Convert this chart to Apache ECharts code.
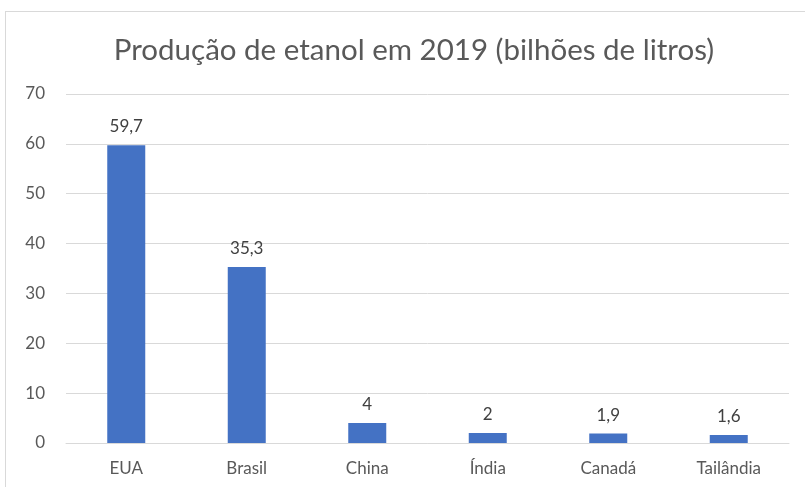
<!DOCTYPE html>
<html>
<head>
<meta charset="utf-8">
<script src="https://cdn.jsdelivr.net/npm/echarts@6/dist/echarts.min.js"></script>
<style>
  html, body { margin: 0; padding: 0; background: #fff; }
  #frame { position: absolute; left: 5px; top: 11px; width: 820px; height: 500px; border: 1px solid #d9d9d9; box-sizing: border-box; }
  #chart { position: absolute; left: 0; top: 0; width: 805px; height: 487px; }
</style>
</head>
<body>
<div id="frame"></div>
<div id="chart"></div>
<script>
// Ethanol production by country, 2019 (billions of litres)
const categories = ['EUA', 'Brasil', 'China', 'Índia', 'Canadá', 'Tailândia'];
const production = [59.7, 35.3, 4, 2, 1.9, 1.6];
const yTicks = [0, 10, 20, 30, 40, 50, 60, 70];

const textColor = '#595959';
const fontFamily = 'Lato, "Open Sans", sans-serif';

const chart = echarts.init(document.getElementById('chart'), null, { renderer: 'canvas' });
chart.setOption({
  animation: false,
  backgroundColor: 'transparent',
  title: {
    text: 'Produção de etanol em 2019 (bilhões de litros)',
    left: 409, top: 30, textAlign: 'center',
    textStyle: { color: textColor, fontSize: 29.5, fontWeight: 'normal', fontFamily }
  },
  grid: { left: 66, right: 16, top: 94, bottom: 44, containLabel: false },
  xAxis: {
    type: 'category',
    data: categories,
    axisLine: { show: true, lineStyle: { color: '#d9d9d9', width: 1 } },
    axisTick: { show: false },
    axisLabel: { color: textColor, fontSize: 17, fontFamily, margin: 17 }
  },
  yAxis: {
    type: 'value',
    min: yTicks[0], max: yTicks[yTicks.length - 1], interval: 10,
    axisLine: { show: false },
    axisTick: { show: false },
    splitLine: { lineStyle: { color: '#d9d9d9', width: 1 } },
    axisLabel: { color: textColor, fontSize: 17, fontFamily, margin: 21 }
  },
  series: [{
    type: 'bar',
    data: production,
    barWidth: 38,
    itemStyle: { color: '#4472C4' },
    label: {
      show: true, position: 'top', distance: 10,
      color: '#404040', fontSize: 17, fontFamily,
      formatter: p => String(p.value).replace('.', ',')
    }
  }]
});
</script>
</body>
</html>
